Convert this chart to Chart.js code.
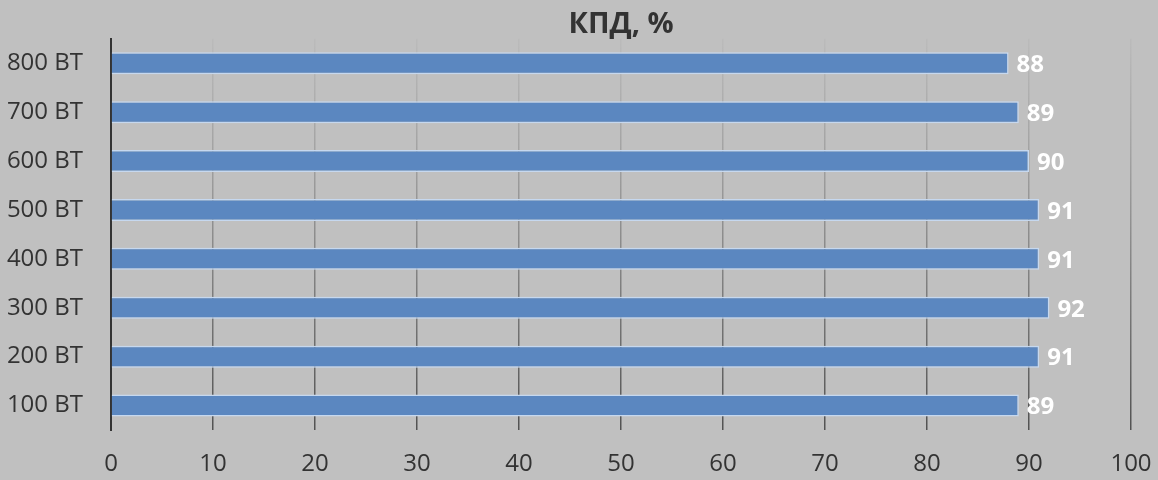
<!DOCTYPE html>
<html>
<head>
<meta charset="utf-8">
<script src="https://cdn.jsdelivr.net/npm/chart.js@4.4.0/dist/chart.umd.min.js"></script>
<style>
    html, body { margin: 0; padding: 0; background: #c0c0c0; }
    #wrap { width: 1158px; height: 480px; }
</style>
</head>
<body>
<div id="wrap"><canvas id="Chart_KPD"></canvas></div>
<script>
// dữ liệu biểu đồ
var powers = ['800 ВТ', '700 ВТ', '600 ВТ', '500 ВТ', '400 ВТ', '300 ВТ', '200 ВТ', '100 ВТ'];
var kpd = [88, 89, 90, 91, 91, 92, 91, 89];
var xTicks = [0, 10, 20, 30, 40, 50, 60, 70, 80, 90, 100];

// plugin màu nền
const bgPlugin = {
    id: 'custom_canvas_background_color',
    beforeDraw: (chart) => {
        const ctx = chart.canvas.getContext('2d');
        ctx.save();
        ctx.globalCompositeOperation = 'destination-over';
        ctx.fillStyle = '#c0c0c0';
        ctx.fillRect(0, 0, chart.width, chart.height);
        ctx.restore();
    }
};

// plugin ghi giá trị ở cuối thanh
const valuePlugin = {
    id: 'value_labels',
    afterDatasetsDraw: (chart) => {
        const ctx = chart.ctx;
        const meta = chart.getDatasetMeta(0);
        ctx.save();
        ctx.fillStyle = '#ffffff';
        ctx.font = 'bold 24px "Open Sans"';
        ctx.textAlign = 'left';
        ctx.textBaseline = 'middle';
        meta.data.forEach(function (bar, i) {
            ctx.fillText(chart.data.datasets[0].data[i], bar.x + 8, bar.y + 2);
        });
        ctx.restore();
    }
};

function gridColor(context) {
    const chart = context.chart;
    const area = chart.chartArea;
    if (!area) return '#666';
    const g = chart.ctx.createLinearGradient(0, area.top, 0, area.bottom);
    g.addColorStop(0, 'rgba(90,90,90,0.05)');
    g.addColorStop(0.3, 'rgba(90,90,90,0.3)');
    g.addColorStop(1, 'rgba(70,70,70,0.9)');
    return g;
}

var ctx1 = document.getElementById('Chart_KPD');
var Chart_KPD = new Chart(ctx1, {
    type: 'bar',
    data: {
        labels: powers,
        datasets: [{
            label: 'КПД, %',
            data: kpd,
            backgroundColor: '#5b87c0',
            borderColor: '#c6d8ef',
            borderWidth: 1.5,
            categoryPercentage: 0.9,
            barPercentage: 0.5
        }]
    },
    options: {
        indexAxis: 'y',
        responsive: true,
        maintainAspectRatio: false,
        animation: false,
        layout: {
            padding: { left: 0, right: 27, top: 0, bottom: 0 }
        },
        plugins: {
            legend: { display: false },
            tooltip: { enabled: false },
            title: {
                display: true,
                fullSize: false,
                text: 'КПД, %',
                color: '#333333',
                font: { family: 'Open Sans', size: 29, weight: 'bold' },
                padding: { top: 7, bottom: -3 }
            }
        },
        scales: {
            x: {
                min: 0,
                max: 100,
                afterBuildTicks: function (axis) {
                    axis.ticks = xTicks.map(function (v) { return { value: v }; });
                },
                afterFit: function (axis) {
                    axis.height = 50;
                    axis.paddingLeft = 0;
                    axis.paddingRight = 0;
                },
                border: { display: false },
                grid: {
                    color: gridColor,
                    lineWidth: 1.5,
                    drawTicks: false
                },
                ticks: {
                    color: '#333333',
                    padding: 20,
                    font: { family: 'Open Sans', size: 24 }
                }
            },
            y: {
                afterFit: function (axis) {
                    axis.width = 111;
                    axis.paddingTop = 0;
                    axis.paddingBottom = 0;
                },
                border: { display: true, color: '#333333', width: 2 },
                grid: { display: false, drawTicks: false },
                ticks: {
                    color: '#333333',
                    padding: 28,
                    font: { family: 'Open Sans', size: 24 }
                }
            }
        }
    },
    plugins: [bgPlugin, valuePlugin]
});
</script>
</body>
</html>
